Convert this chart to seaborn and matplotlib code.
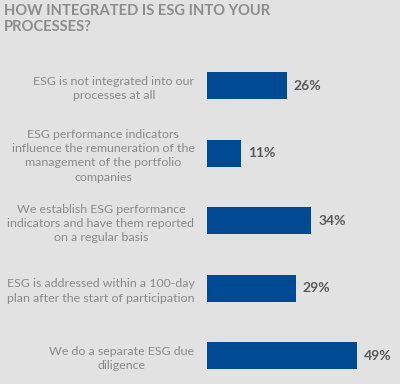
import matplotlib
matplotlib.use("Agg")
import matplotlib.pyplot as plt
import seaborn as sns
import pandas as pd

categories = [
    "ESG is not integrated into our\nprocesses at all",
    "ESG performance indicators\ninfluence the remuneration of the\nmanagement of the portfolio\ncompanies",
    "We establish ESG performance\nindicators and have them reported\non a regular basis",
    "ESG is addressed within a 100-day\nplan after the start of participation",
    "We do a separate ESG due\ndiligence",
]
values = [26, 11, 34, 29, 49]
title = "HOW INTEGRATED IS ESG INTO YOUR\nPROCESSES?"

df = pd.DataFrame({"cat": categories, "val": values})

sns.set_theme(style="white")
plt.rcParams['font.family'] = ['Lato', 'DejaVu Sans']

bg = "#e2e2e2"
fig = plt.figure(figsize=(4.0, 3.84), dpi=100, facecolor=bg)
W, H = 400, 384
ax_left, ax_right = 207, 400
ax_top, ax_bot = 52, 384
ax = fig.add_axes([ax_left / W, 1 - ax_bot / H, (ax_right - ax_left) / W, (ax_bot - ax_top) / H])
ax.set_facecolor(bg)

sns.barplot(data=df, x="val", y="cat", ax=ax, color="#004a93", width=0.4,
            saturation=1, orient="h", linewidth=0)

ax.set_xlim(0, 63)
ax.set_ylim(4.415, -0.5)
for s in ax.spines.values():
    s.set_visible(False)
ax.set_xticks([])
ax.set_xlabel("")
ax.set_ylabel("")
ax.tick_params(axis="y", length=0, pad=9)
for lab in ax.get_yticklabels():
    lab.set_multialignment("center")
    lab.set_color("#8a8a8a")
    lab.set_fontsize(8.9)
    lab.set_linespacing(1.35)

for i, v in enumerate(values):
    ax.text(v + 2.3, i, f"{v}%", va="center", ha="left", fontsize=10,
            fontweight="bold", color="#5a5a5a")

fig.text(4 / W, 1 - 4 / H, title, ha="left", va="top", fontsize=10.6,
         fontweight="bold", color="#8c8c8c", linespacing=1.15)

fig.savefig("out.png", dpi=100, facecolor=bg)
